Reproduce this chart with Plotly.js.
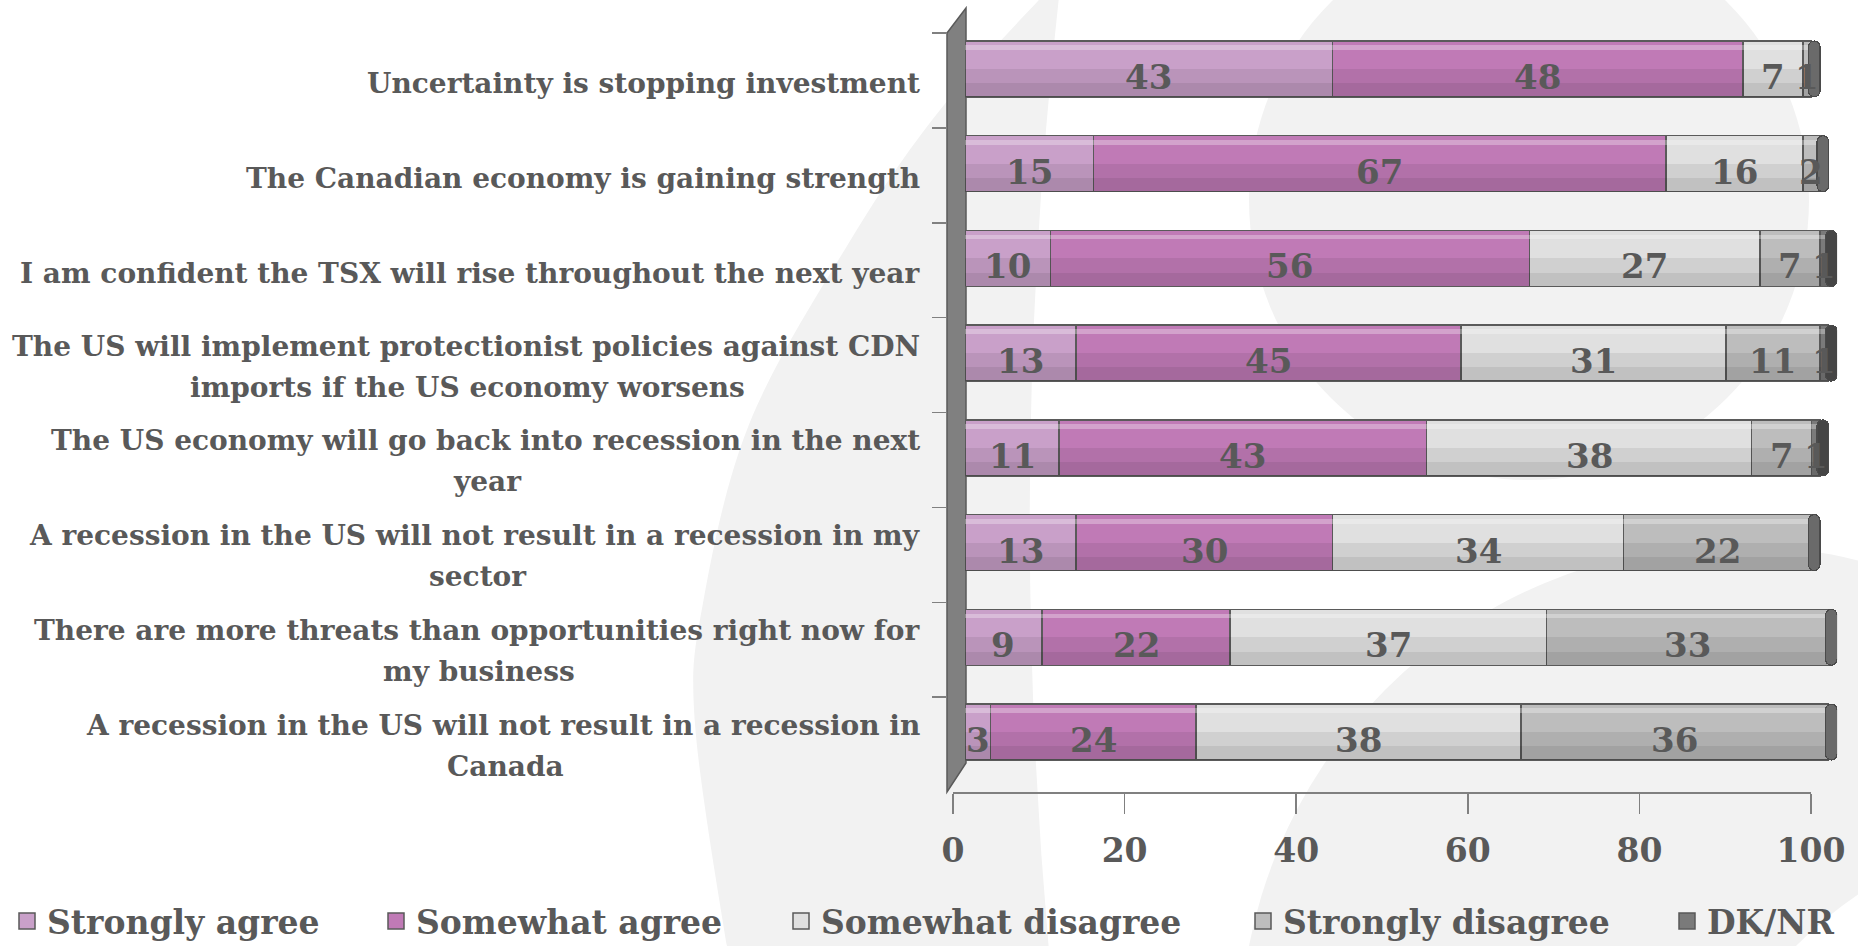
<!DOCTYPE html>
<html>
<head>
<meta charset="utf-8">
<script src="https://cdn.plot.ly/plotly-3.0.1.min.js"></script>
<style>
  html, body { margin: 0; padding: 0; background: #ffffff; }
  #chart { width: 1858px; height: 946px; }
</style>
</head>
<body>
<div id="chart"></div>
<script>
// ---------------- DATA ----------------
const categories = [
  "Uncertainty is stopping investment",
  "The Canadian economy is gaining strength",
  "I am confident the TSX will rise throughout the next year",
  "The US will implement protectionist policies against CDN imports if the US economy worsens",
  "The US economy will go back into recession in the next year",
  "A recession in the US will not result in a recession in my sector",
  "There are more threats than opportunities right now for my business",
  "A recession in the US will not result in a recession in Canada"
];
const categoryLabels = [
  "Uncertainty is stopping investment",
  "The Canadian economy is gaining strength",
  "I am confident the TSX will rise throughout the next year",
  "The US will implement protectionist policies against CDN<br>imports if the US economy worsens",
  "The US economy will go back into recession in the next<br>year",
  "A recession in the US will not result in a recession in my<br>sector",
  "There are more threats than opportunities right now for<br>my business",
  "A recession in the US will not result in a recession in<br>Canada"
];
const seriesNames = ["Strongly agree", "Somewhat agree", "Somewhat disagree", "Strongly disagree", "DK/NR"];
const stronglyAgree    = [43, 15, 10, 13, 11, 13,  9,  3];
const somewhatAgree    = [48, 67, 56, 45, 43, 30, 22, 24];
const somewhatDisagree = [ 7, 16, 27, 31, 38, 34, 37, 38];
const stronglyDisagree = [ 1,  2,  7, 11,  7, 22, 33, 36];
const dkNr             = [ 0,  0,  1,  1,  1,  0,  0,  0];
const xTickValues = [0, 20, 40, 60, 80, 100];

// ---------------- STYLE ----------------
const W = 1858, H = 946;
const px = x => x / W;
const py = y => 1 - y / H;
const FONT = "'DejaVu Serif', 'Liberation Serif', serif";
const TXT = "#595959";
const seriesColors = ["#c9a0c9", "#c07ab6", "#e0e0e0", "#bdbdbd", "#7a7a7a"];
const seriesData = [stronglyAgree, somewhatAgree, somewhatDisagree, stronglyDisagree, dkNr];
const legendTextX = [47, 416, 821, 1283, 1707];
const catRange = [categories.length - 0.5, -0.5];
const LABEL_SIZE = 28;
const X_MAX = 102;                 // a little room past 100 for the end caps / labels
const UNIT_PX = 8.55;              // pixels per percentage point
const BAR_X0 = 965;                // pixel where the bars start

const traces = [];
seriesData.forEach((vals, i) => {
  traces.push({
    type: "bar", orientation: "h",
    name: seriesNames[i],
    x: vals, y: categories,
    xaxis: "x", yaxis: "y",
    showlegend: false,
    marker: { color: seriesColors[i], line: { color: "#5a5a5a", width: 1.5 } },
    hoverinfo: "skip"
  });
});

// cylinder-like shading overlays drawn from the row totals
const totals = categories.map((c, k) => seriesData.reduce((s, arr) => s + arr[k], 0));
const shades = [
  { axis: "y3", offset: 0.0,   width: 0.295, color: "rgba(0,0,0,0.07)" },
  { axis: "y4", offset: 0.15,  width: 0.145, color: "rgba(0,0,0,0.07)" },
  { axis: "y5", offset: -0.25, width: 0.05,  color: "rgba(255,255,255,0.30)" }
];
shades.forEach(s => {
  traces.push({
    type: "bar", orientation: "h",
    x: totals, y: categories,
    xaxis: "x", yaxis: s.axis,
    offset: s.offset, width: s.width,
    marker: { color: s.color, line: { width: 0 } },
    showlegend: false, hoverinfo: "skip"
  });
});

// rounded end caps of the 3-D bars, at each row total
const CAP_BACK = 0.35, CAP_LEN = 1.35;
traces.push({
  type: "bar", orientation: "h",
  base: totals.map(t => t - CAP_BACK),
  x: totals.map(() => CAP_LEN),
  y: categories,
  xaxis: "x", yaxis: "y6",
  marker: {
    color: dkNr.map(v => v > 0 ? "#454545" : "#6a6a6a"),
    line: { color: "#4a4a4a", width: 1.2 },
    cornerradius: 6
  },
  showlegend: false, hoverinfo: "skip"
});

// legend entries (square swatches), one per series
seriesNames.forEach((n, i) => {
  traces.push({
    type: "scatter", mode: "markers",
    name: n, x: [null], y: [null],
    xaxis: "x", yaxis: "y",
    legend: i === 0 ? "legend" : "legend" + (i + 1),
    marker: { symbol: "square", size: 20, color: seriesColors[i], line: { color: "#595959", width: 1.5 } },
    hoverinfo: "skip"
  });
});

// frame subplot helper trace (invisible) so the frame axes are drawn
traces.push({
  type: "bar", orientation: "h",
  x: stronglyAgree, y: categories,
  xaxis: "x2", yaxis: "y2",
  marker: { color: "rgba(0,0,0,0)" },
  showlegend: false, hoverinfo: "skip"
});

const catAxis = (extra) => Object.assign({
  type: "category", categoryarray: categories, categoryorder: "array",
  range: catRange, fixedrange: true
}, extra);

// text measuring for centred two-line category labels
const cnv = document.createElement("canvas").getContext("2d");
cnv.font = `bold ${LABEL_SIZE}px 'DejaVu Serif'`;
const labelFont = { family: FONT, size: LABEL_SIZE, color: TXT, weight: 700 };
const annotations = [];
categories.forEach((c, i) => {
  const lines = categoryLabels[i].split("<br>");
  if (lines.length === 1) {
    annotations.push({ xref: "paper", yref: "y2", x: px(922), y: c, yshift: -3,
      xanchor: "right", yanchor: "middle", text: lines[0], showarrow: false, font: labelFont });
  } else {
    const w1 = cnv.measureText(lines[0]).width;
    annotations.push({ xref: "paper", yref: "y2", x: px(922), y: c, yshift: 19,
      xanchor: "right", yanchor: "middle", text: lines[0], showarrow: false, font: labelFont });
    annotations.push({ xref: "paper", yref: "y2", x: px(922 - w1 / 2), y: c, yshift: -22,
      xanchor: "center", yanchor: "middle", text: lines[1], showarrow: false, font: labelFont });
  }
});

// value labels centred in each segment
categories.forEach((c, k) => {
  let start = 0;
  seriesData.forEach(arr => {
    const v = arr[k];
    if (v > 0) {
      annotations.push({ xref: "x", yref: "y", x: start + v / 2, y: c, yshift: -8,
        xanchor: "center", yanchor: "middle", text: String(v), showarrow: false,
        font: { family: FONT, size: 34, color: TXT, weight: 700 } });
    }
    start += v;
  });
});

// background logo: crescent outer edge through traced points (Catmull-Rom -> Bezier)
const outerEdge = [[1050, -12], [940, 110], [850, 241], [750, 422], [703, 603], [695, 724], [727, 946], [733, 962]];
function smoothPath(pts) {
  let d = `M ${px(pts[0][0])},${py(pts[0][1])}`;
  for (let i = 0; i < pts.length - 1; i++) {
    const p0 = pts[Math.max(0, i - 1)], p1 = pts[i], p2 = pts[i + 1], p3 = pts[Math.min(pts.length - 1, i + 2)];
    const c1 = [p1[0] + (p2[0] - p0[0]) / 6, p1[1] + (p2[1] - p0[1]) / 6];
    const c2 = [p2[0] - (p3[0] - p1[0]) / 6, p2[1] - (p3[1] - p1[1]) / 6];
    d += ` C ${px(c1[0])},${py(c1[1])} ${px(c2[0])},${py(c2[1])} ${px(p2[0])},${py(p2[1])}`;
  }
  return d;
}
const crescentPath = smoothPath(outerEdge) +
  ` L ${px(1050)},${py(962)} Q ${px(1005)},${py(470)} ${px(1060)},${py(-12)} Z`;

const shapes = [
  { type: "path", layer: "below", xref: "paper", yref: "paper",
    path: crescentPath, fillcolor: "#f2f2f2", line: { width: 0 } },
  { type: "circle", layer: "below", xref: "paper", yref: "paper",
    x0: px(1240), x1: px(2230), y0: py(1535), y1: py(545),
    fillcolor: "#f2f2f2", line: { width: 0 } },
  { type: "circle", layer: "below", xref: "paper", yref: "paper",
    x0: px(1670), x1: px(2530), y0: py(1680), y1: py(820),
    fillcolor: "#ffffff", line: { width: 0 } },
  { type: "circle", layer: "below", xref: "paper", yref: "paper",
    x0: px(1249), x1: px(1809), y0: py(480), y1: py(-80),
    fillcolor: "#f2f2f2", line: { width: 0 } },
  // 3-D side wall
  { type: "path", layer: "below", xref: "paper", yref: "paper",
    path: `M ${px(947)},${py(33)} L ${px(966)},${py(8)} L ${px(966)},${py(763)} L ${px(947)},${py(792)} Z`,
    fillcolor: "#808080", line: { color: "#5a5a5a", width: 1.5 } }
];

const legends = {};
seriesNames.forEach((n, i) => {
  legends[i === 0 ? "legend" : "legend" + (i + 1)] = {
    x: px(legendTextX[i] - 40), y: py(921),
    xanchor: "left", yanchor: "middle",
    orientation: "h",
    bgcolor: "rgba(0,0,0,0)", borderwidth: 0,
    font: { family: FONT, size: 33, color: TXT, weight: 700 }
  };
});

const barX = { domain: [px(BAR_X0), px(BAR_X0 + X_MAX * UNIT_PX)], range: [0, X_MAX],
  visible: false, anchor: "y", fixedrange: true };

const layout = Object.assign({
  width: W, height: H,
  margin: { l: 0, r: 0, t: 0, b: 0, pad: 0, autoexpand: false },
  paper_bgcolor: "#ffffff",
  plot_bgcolor: "rgba(0,0,0,0)",
  font: { family: FONT, color: TXT },
  barmode: "stack",
  bargap: 0.41,
  showlegend: true,
  xaxis: barX,
  yaxis: catAxis({ domain: [py(779.4), py(21.6)], visible: false, anchor: "x" }),
  yaxis3: catAxis({ overlaying: "y", visible: false, anchor: "x" }),
  yaxis4: catAxis({ overlaying: "y", visible: false, anchor: "x" }),
  yaxis5: catAxis({ overlaying: "y", visible: false, anchor: "x" }),
  yaxis6: catAxis({ overlaying: "y", visible: false, anchor: "x" }),
  xaxis2: {
    domain: [px(953), px(1811)], range: [0, 100], anchor: "y2",
    tickmode: "array", tickvals: xTickValues, ticktext: xTickValues.map(String),
    showline: true, linecolor: "#808080", linewidth: 2,
    ticks: "outside", ticklen: 20, tickwidth: 1.5, tickcolor: "#808080",
    showgrid: false, zeroline: false, fixedrange: true, automargin: false,
    ticklabelstandoff: 8,
    tickfont: { family: FONT, size: 33, color: TXT, weight: 700 }
  },
  yaxis2: catAxis({
    domain: [py(792), py(33)], anchor: "free", position: px(947),
    showline: false, ticks: "outside", tickson: "boundaries",
    ticklen: 15, tickwidth: 1.5, tickcolor: "#808080",
    showticklabels: false, showgrid: false, zeroline: false
  }),
  annotations: annotations,
  shapes: shapes
}, legends);

Plotly.newPlot("chart", traces, layout, { displayModeBar: false, staticPlot: true });
</script>
</body>
</html>
